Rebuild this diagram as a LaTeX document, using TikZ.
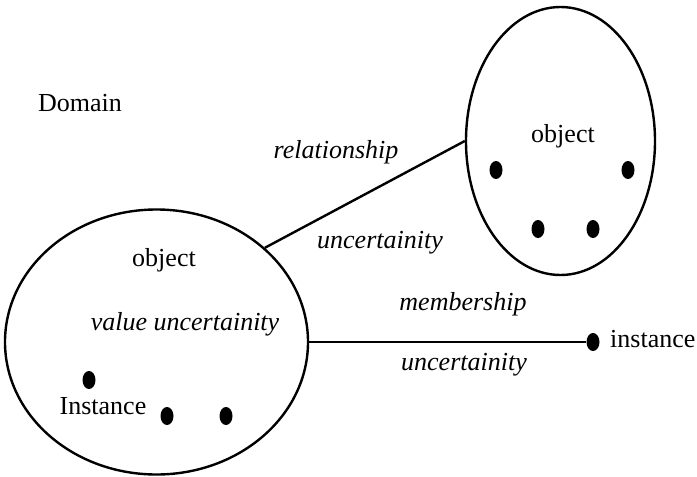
\documentclass[tikz,border=0pt]{standalone}
\usepackage{fontspec}
\setmainfont{Liberation Serif}
\usetikzlibrary{shapes.geometric}
\begin{document}
\begin{tikzpicture}[x=1pt,y=-1pt,
  every node/.style={font=\fontsize{26}{30}\selectfont},
  region/.style={ellipse,draw,line width=2.4pt,inner sep=0pt},
  elem/.style={ellipse,fill=black,inner sep=0pt,minimum width=13pt,minimum height=18pt},
  lbl/.style={anchor=base,inner sep=0pt},
  ilbl/.style={lbl,font=\fontsize{26}{30}\selectfont\itshape},
  link/.style={line width=2.4pt}]
\useasboundingbox (0,0) rectangle (697,477);

% the two object regions
\node[region,minimum width=303pt,minimum height=265pt] (big) at (156.5,342) {};
\node[region,minimum width=189pt,minimum height=268pt] (small) at (560.5,141) {};

% instances inside the regions
\node[elem] (s1) at (496,170) {};
\node[elem] (s2) at (628,170) {};
\node[elem] (s3) at (538,229) {};
\node[elem] (s4) at (593,229) {};
\node[elem] (b1) at (89,380) {};
\node[elem] (b2) at (167,416) {};
\node[elem] (b3) at (226,416) {};

% a lone instance
\node[elem] (inst) at (593,342) {};

% connectors
\draw[link] (big.41) -- (small.180);
\draw[link] (big.east) -- (inst.west);

% labels
\node[lbl] (domain) at (80,111) {Domain};
\node[lbl] (sobj) at (563,142) {object};
\node[lbl] (bobj) at (164,266) {object};
\node[ilbl] (rel) at (336,158) {relationship};
\node[ilbl] (relu) at (380,248) {uncertainity};
\node[ilbl] (valu) at (185,330) {value uncertainity};
\node[lbl] (binst) at (103,414) {Instance};
\node[ilbl] (mem) at (463,310) {membership};
\node[ilbl] (memu) at (464,370) {uncertainity};
\node[lbl,anchor=base west] (instl) at (610,347) {instance};
\end{tikzpicture}
\end{document}
